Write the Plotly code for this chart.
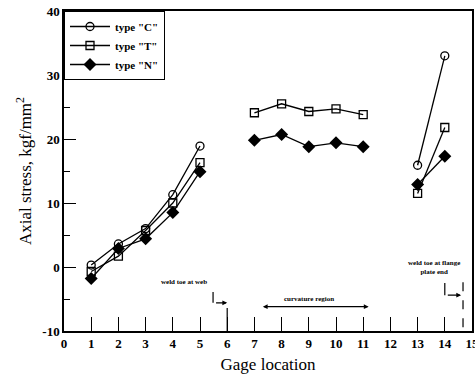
import plotly.graph_objects as go

gage = [1, 2, 3, 4, 5, 6, 7, 8, 9, 10, 11, 12, 13, 14]
type_c = [0.3, 3.6, 6.0, 11.3, 18.9, None, None, None, None, None, None, None, 15.9, 33.0]
type_t = [-0.7, 1.7, 5.7, 10.0, 16.3, None, 24.1, 25.5, 24.3, 24.7, 23.8, None, 11.5, 21.8]
type_n = [-1.8, 2.9, 4.4, 8.5, 14.9, None, 19.8, 20.7, 18.8, 19.4, 18.8, None, 12.9, 17.3]
x_ticks = list(range(0, 16))
y_ticks = [-10, 0, 10, 20, 30, 40]

SERIF = "Liberation Serif, Times New Roman, serif"

fig = go.Figure()
fig.add_trace(go.Scatter(x=gage, y=type_c, name='<b>type "C"</b>', mode="lines+markers",
                         line=dict(color="black", width=1.3),
                         marker=dict(symbol="circle-open", size=8, color="black", line=dict(width=1.3))))
fig.add_trace(go.Scatter(x=gage, y=type_t, name='<b>type "T"</b>', mode="lines+markers",
                         line=dict(color="black", width=1.3),
                         marker=dict(symbol="square-open", size=8, color="black", line=dict(width=1.3))))
fig.add_trace(go.Scatter(x=gage, y=type_n, name='<b>type "N"</b>', mode="lines+markers",
                         line=dict(color="black", width=1.3),
                         marker=dict(symbol="diamond", size=10, color="black")))

shapes = [
    dict(type="line", x0=5.48, x1=5.48, y0=-3.9, y1=-5.6, line=dict(color="black", width=1.2)),
    dict(type="line", x0=6, x1=6, y0=-6.4, y1=-10, line=dict(color="black", width=1.2)),
    dict(type="line", x0=14.67, x1=14.67, y0=-2.4, y1=-10, line=dict(color="black", width=1.2, dash="dash")),
    dict(type="line", x0=14.0, x1=14.0, y0=-2.5, y1=-4.4, line=dict(color="black", width=1.2)),
]
annotations = [
    dict(x=6.0, y=-5.6, ax=5.48, ay=-5.6, xref="x", yref="y", axref="x", ayref="y",
         showarrow=True, arrowhead=2, arrowsize=0.8, arrowwidth=1.2, arrowcolor="black", text=" "),
    dict(x=14.6, y=-4.4, ax=14.0, ay=-4.4, xref="x", yref="y", axref="x", ayref="y",
         showarrow=True, arrowhead=2, arrowsize=0.8, arrowwidth=1.2, arrowcolor="black", text=" "),
    dict(x=11.2, y=-6.2, ax=7.2, ay=-6.2, xref="x", yref="y", axref="x", ayref="y",
         showarrow=True, arrowhead=2, arrowside="end+start", arrowsize=0.8, arrowwidth=1.2,
         arrowcolor="black", text=" "),
    dict(x=4.4, y=-2.4, text="<b>weld toe at web</b>", showarrow=False,
         font=dict(family=SERIF, size=7, color="black")),
    dict(x=9.0, y=-5.0, text="<b>curvature region</b>", showarrow=False,
         font=dict(family=SERIF, size=7, color="black")),
    dict(x=13.6, y=0.0, text="<b>weld toe at flange<br>plate end</b>", showarrow=False,
         font=dict(family=SERIF, size=7, color="black")),
]

fig.update_layout(
    width=475, height=388,
    margin=dict(l=64, r=3, t=11, b=57, autoexpand=False),
    paper_bgcolor="white", plot_bgcolor="white",
    font=dict(family=SERIF, color="black"),
    shapes=shapes, annotations=annotations,
    legend=dict(x=0, y=1, xanchor="left", yanchor="top", bgcolor="white",
                bordercolor="black", borderwidth=1,
                font=dict(family=SERIF, size=11, color="black"),
                tracegroupgap=0, itemwidth=40),
    showlegend=True,
)
fig.update_xaxes(range=[0, 15], tickvals=x_ticks, ticktext=[f"<b>{v}</b>" for v in x_ticks],
                 ticks="inside", ticklen=14, tickwidth=1.2, automargin=False,
                 ticklabeloverflow="allow",
                 tickcolor="black", showline=True, linecolor="black", linewidth=1.5, mirror=True,
                 showgrid=False, zeroline=False,
                 tickfont=dict(family=SERIF, size=13, color="black"),
                 title=dict(text="Gage location", font=dict(family=SERIF, size=17, color="black"),
                            standoff=8))
fig.update_yaxes(range=[-10, 40], tickvals=y_ticks, ticktext=[f"<b>{v}</b>" for v in y_ticks],
                 ticks="inside", ticklen=12, tickwidth=1.2, automargin=False,
                 ticklabeloverflow="allow",
                 tickcolor="black", showline=True, linecolor="black", linewidth=1.5, mirror=True,
                 showgrid=False, zeroline=False,
                 minor=dict(dtick=5, ticks="inside", ticklen=6, tickwidth=1.2, tickcolor="black",
                            showgrid=False),
                 tickfont=dict(family=SERIF, size=13, color="black"),
                 title=dict(text="Axial stress, kgf/mm<sup>2</sup>",
                            font=dict(family=SERIF, size=17, color="black"), standoff=6))

fig.write_html("out.html")
